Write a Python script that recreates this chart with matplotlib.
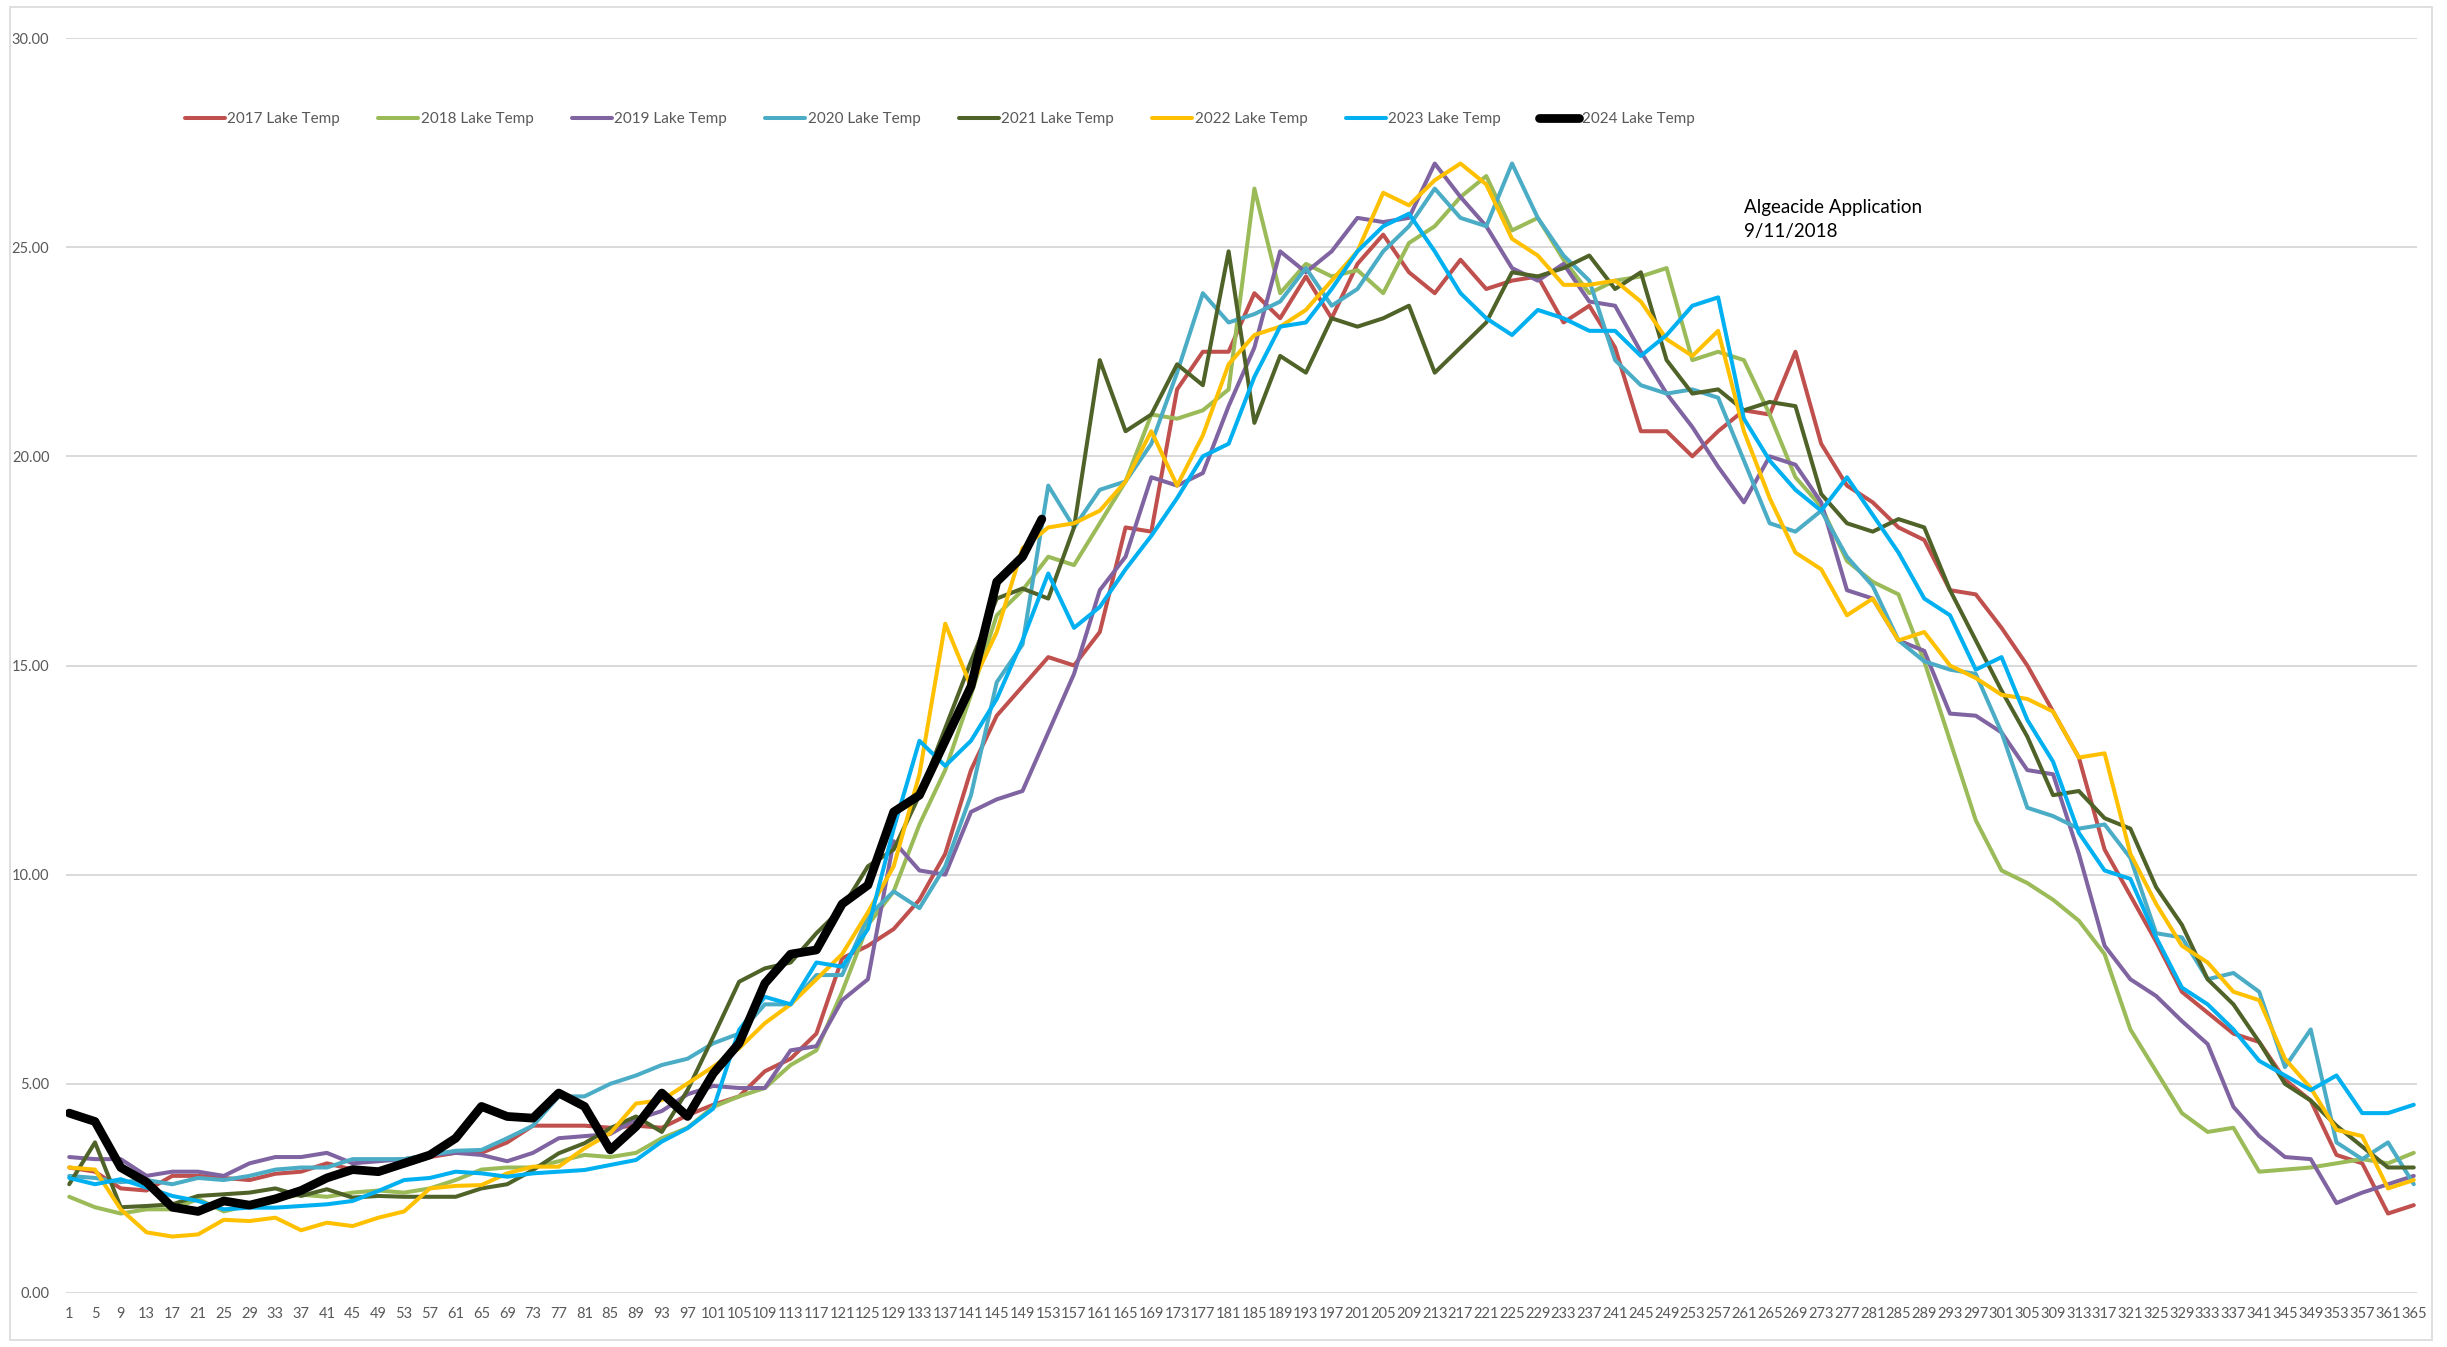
import matplotlib
matplotlib.use("Agg")
import matplotlib.pyplot as plt
from matplotlib.patches import Rectangle

# ---------------- data ----------------
days = list(range(1, 366, 4))
tick_labels = [str(d) for d in days]
days_2024 = list(range(1, 150, 4)) + [152]

series_names = ["2017 Lake Temp", "2018 Lake Temp", "2019 Lake Temp", "2020 Lake Temp",
                "2021 Lake Temp", "2022 Lake Temp", "2023 Lake Temp", "2024 Lake Temp"]
series_colors = ["#C0504D", "#9BBB59", "#8064A2", "#4BACC6",
                 "#4F6228", "#FFC000", "#00B0F0", "#000000"]

temp_2017 = [3.0, 2.9, 2.5, 2.45, 2.8, 2.8, 2.75, 2.7, 2.85, 2.9,
             3.1, 2.95, 2.95, 3.05, 3.25, 3.35, 3.35, 3.6, 4.0, 4.0,
             4.0, 3.95, 4.0, 3.95, 4.25, 4.5, 4.7, 5.3, 5.6, 6.2,
             8.0, 8.3, 8.7, 9.4, 10.5, 12.5, 13.8, 14.5, 15.2, 15.0,
             15.8, 18.3, 18.2, 21.6, 22.5, 22.5, 23.9, 23.3, 24.3, 23.3,
             24.6, 25.3, 24.4, 23.9, 24.7, 24.0, 24.2, 24.3, 23.2, 23.6,
             22.6, 20.6, 20.6, 20.0, 20.6, 21.1, 21.0, 22.5, 20.3, 19.3,
             18.9, 18.3, 18.0, 16.8, 16.7, 15.9, 15.0, 13.9, 12.8, 10.6,
             9.5, 8.4, 7.2, 6.7, 6.2, 6.0, 5.1, 4.6, 3.3, 3.1,
             1.9, 2.1]

temp_2018 = [2.3, 2.05, 1.9, 2.0, 2.0, 2.25, 1.95, 2.1, 2.25, 2.35,
             2.3, 2.4, 2.45, 2.4, 2.5, 2.7, 2.95, 3.0, 3.0, 3.15,
             3.3, 3.25, 3.35, 3.7, 3.95, 4.45, 4.7, 4.9, 5.45, 5.8,
             7.2, 8.8, 9.6, 11.2, 12.5, 14.3, 16.2, 16.8, 17.6, 17.4,
             18.4, 19.4, 21.0, 20.9, 21.1, 21.6, 26.4, 23.9, 24.6, 24.3,
             24.45, 23.9, 25.1, 25.5, 26.2, 26.7, 25.4, 25.7, 24.7, 23.9,
             24.2, 24.3, 24.5, 22.3, 22.5, 22.3, 21.0, 19.5, 18.8, 17.5,
             17.0, 16.7, 15.1, 13.2, 11.3, 10.1, 9.8, 9.4, 8.9, 8.1,
             6.3, 5.3, 4.3, 3.85, 3.95, 2.9, 2.95, 3.0, 3.1, 3.2,
             3.1, 3.35]

temp_2019 = [3.25, 3.2, 3.2, 2.8, 2.9, 2.9, 2.8, 3.1, 3.25, 3.25,
             3.35, 3.1, 3.15, 3.2, 3.3, 3.35, 3.3, 3.15, 3.35, 3.7,
             3.75, 3.8, 4.15, 4.35, 4.75, 4.95, 4.9, 4.9, 5.8, 5.9,
             7.0, 7.5, 10.8, 10.1, 10.0, 11.5, 11.8, 12.0, 13.4, 14.8,
             16.8, 17.6, 19.5, 19.3, 19.6, 21.2, 22.6, 24.9, 24.4, 24.9,
             25.7, 25.6, 25.7, 27.0, 26.2, 25.5, 24.5, 24.2, 24.6, 23.7,
             23.6, 22.5, 21.5, 20.7, 19.75, 18.9, 20.0, 19.8, 18.9, 16.8,
             16.6, 15.6, 15.35, 13.85, 13.8, 13.4, 12.5, 12.4, 10.5, 8.3,
             7.5, 7.1, 6.5, 5.95, 4.45, 3.75, 3.25, 3.2, 2.15, 2.4,
             2.6, 2.8]

temp_2020 = [2.8, 2.75, 2.65, 2.7, 2.6, 2.75, 2.7, 2.8, 2.95, 3.0,
             3.0, 3.2, 3.2, 3.2, 3.3, 3.4, 3.42, 3.7, 4.0, 4.7,
             4.7, 5.0, 5.2, 5.45, 5.6, 5.97, 6.2, 6.9, 6.9, 7.6,
             7.6, 9.0, 9.6, 9.2, 10.2, 11.9, 14.6, 15.5, 19.3, 18.3,
             19.2, 19.4, 20.3, 22.0, 23.9, 23.2, 23.4, 23.7, 24.5, 23.6,
             24.0, 24.9, 25.5, 26.4, 25.7, 25.5, 27.0, 25.7, 24.8, 24.2,
             22.3, 21.7, 21.5, 21.6, 21.4, 19.9, 18.4, 18.2, 18.7, 17.6,
             16.9, 15.6, 15.1, 14.9, 14.8, 13.4, 11.6, 11.4, 11.1, 11.2,
             10.4, 8.6, 8.5, 7.5, 7.65, 7.2, 5.4, 6.3, 3.6, 3.2,
             3.6, 2.6]

temp_2021 = [2.6, 3.6, 2.05, 2.08, 2.12, 2.32, 2.36, 2.4, 2.5, 2.32,
             2.48, 2.28, 2.32, 2.3, 2.3, 2.3, 2.5, 2.6, 2.94, 3.34,
             3.58, 3.94, 4.22, 3.85, 4.85, 6.13, 7.44, 7.76, 7.9, 8.6,
             9.2, 10.2, 10.6, 11.9, 13.5, 15.1, 16.6, 16.84, 16.6, 18.3,
             22.3, 20.6, 21.0, 22.2, 21.7, 24.9, 20.8, 22.4, 22.0, 23.3,
             23.1, 23.3, 23.6, 22.0, 22.6, 23.2, 24.4, 24.3, 24.5, 24.8,
             24.0, 24.4, 22.3, 21.5, 21.6, 21.1, 21.3, 21.2, 19.1, 18.4,
             18.2, 18.5, 18.3, 16.8, 15.6, 14.4, 13.3, 11.9, 12.0, 11.35,
             11.1, 9.7, 8.8, 7.5, 6.9, 6.0, 5.0, 4.6, 4.0, 3.5,
             3.0, 3.0]

temp_2022 = [3.0, 2.95, 2.0, 1.45, 1.35, 1.4, 1.75, 1.72, 1.8, 1.5,
             1.68, 1.6, 1.8, 1.95, 2.5, 2.56, 2.58, 2.86, 3.02, 3.02,
             3.46, 3.82, 4.53, 4.61, 5.01, 5.41, 5.85, 6.45, 6.9, 7.5,
             8.1, 9.1, 10.2, 12.4, 16.0, 14.5, 15.8, 17.8, 18.3, 18.4,
             18.7, 19.4, 20.6, 19.3, 20.5, 22.2, 22.9, 23.1, 23.5, 24.2,
             24.9, 26.3, 26.0, 26.6, 27.0, 26.5, 25.2, 24.8, 24.1, 24.1,
             24.2, 23.7, 22.8, 22.4, 23.0, 20.6, 19.0, 17.7, 17.3, 16.2,
             16.6, 15.6, 15.8, 15.0, 14.7, 14.3, 14.2, 13.9, 12.8, 12.9,
             10.5, 9.3, 8.3, 7.9, 7.2, 7.0, 5.6, 4.9, 3.9, 3.75,
             2.5, 2.7]

temp_2023 = [2.75, 2.6, 2.72, 2.52, 2.32, 2.2, 2.0, 2.04, 2.04, 2.08,
             2.12, 2.2, 2.44, 2.7, 2.75, 2.9, 2.86, 2.78, 2.86, 2.9,
             2.94, 3.06, 3.18, 3.62, 3.94, 4.41, 6.29, 7.08, 6.9, 7.9,
             7.8, 8.7, 11.1, 13.2, 12.6, 13.2, 14.2, 15.6, 17.2, 15.9,
             16.4, 17.3, 18.1, 19.0, 20.0, 20.3, 21.9, 23.1, 23.2, 24.0,
             24.9, 25.5, 25.8, 24.9, 23.9, 23.3, 22.9, 23.5, 23.3, 23.0,
             23.0, 22.4, 22.9, 23.6, 23.8, 20.9, 19.9, 19.2, 18.7, 19.5,
             18.6, 17.7, 16.6, 16.2, 14.9, 15.2, 13.7, 12.7, 11.0, 10.1,
             9.9, 8.5, 7.3, 6.9, 6.3, 5.55, 5.2, 4.85, 5.2, 4.3,
             4.3, 4.5]

temp_2024 = [4.3, 4.1, 3.0, 2.65, 2.05, 1.95, 2.2, 2.1, 2.25, 2.45,
             2.75, 2.95, 2.9, 3.1, 3.3, 3.7, 4.46, 4.22, 4.18, 4.78,
             4.46, 3.42, 3.98, 4.78, 4.22, 5.25, 5.97, 7.4, 8.1, 8.2,
             9.3, 9.75, 11.5, 11.9, 13.2, 14.5, 17.0, 17.6,
             18.5]

y_ticks = [0, 5, 10, 15, 20, 25, 30]
annotation_lines = ["Algeacide Application", "9/11/2018"]

# ---------------- figure ----------------
plt.rcParams['font.family'] = ['Lato', 'DejaVu Sans']
W, H = 2447, 1347
fig = plt.figure(figsize=(W / 100, H / 100), dpi=100)
fig.patch.set_facecolor('white')

# chart border
fig.patches.append(Rectangle((10 / W, 7 / H), (2432 - 10) / W, (1340 - 7) / H,
                             transform=fig.transFigure, fill=False,
                             edgecolor='#D9D9D9', lw=1.2))

ax = fig.add_axes([66 / W, 1 - 1293 / H, (2417 - 66) / W, (1293 - 38) / H])
ax.set_xlim(0.5, 365.5)
ax.set_ylim(0, 30)
for s in ax.spines.values():
    s.set_visible(False)
ax.set_yticks(y_ticks)
ax.set_yticklabels([f"{v:.2f}" for v in y_ticks])
ax.set_xticks(days)
ax.set_xticklabels(tick_labels)
ax.yaxis.grid(True, color='#D9D9D9', lw=1.4)
ax.set_axisbelow(True)
ax.tick_params(axis='both', length=0, labelcolor='#595959', labelsize=10.5)
ax.tick_params(axis='y', pad=12)
ax.tick_params(axis='x', pad=10)

all_y = [temp_2017, temp_2018, temp_2019, temp_2020, temp_2021, temp_2022, temp_2023, temp_2024]
all_x = [days] * 7 + [days_2024]
widths = [2.9] * 7 + [6.3]
for name, col, xs, ys, lw in zip(series_names, series_colors, all_x, all_y, widths):
    ax.plot(xs, ys, color=col, lw=lw, label=name,
            solid_joinstyle='round', solid_capstyle='round')

# annotation
ax.text(261, 25.82, annotation_lines[0], fontsize=13.5, color='black', va='baseline', ha='left')
ax.text(261, 25.24, annotation_lines[1], fontsize=13.5, color='black', va='baseline', ha='left')

# legend with spacing matched to the reference
fs = 11
fs_px = fs * 100 / 72
hl = 40 / fs_px
htp = 0.15


def make_legend(colsp):
    lg = ax.legend(loc='center left', bbox_to_anchor=((185 - 66) / 2351, (1293 - 119) / 1255),
                   ncol=8, frameon=False, fontsize=fs, handlelength=hl, handletextpad=htp,
                   columnspacing=colsp, borderpad=0, borderaxespad=0)
    for t in lg.get_texts():
        t.set_color('#595959')
    return lg


leg = make_legend(2.0)
fig.canvas.draw()
r = fig.canvas.get_renderer()
tw = max(t.get_window_extent(r).width for t in leg.get_texts())
colsp = (193.5 - (hl + htp) * fs_px - tw) / fs_px
leg.remove()
leg = make_legend(colsp)

fig.savefig('out.png', dpi=100)
